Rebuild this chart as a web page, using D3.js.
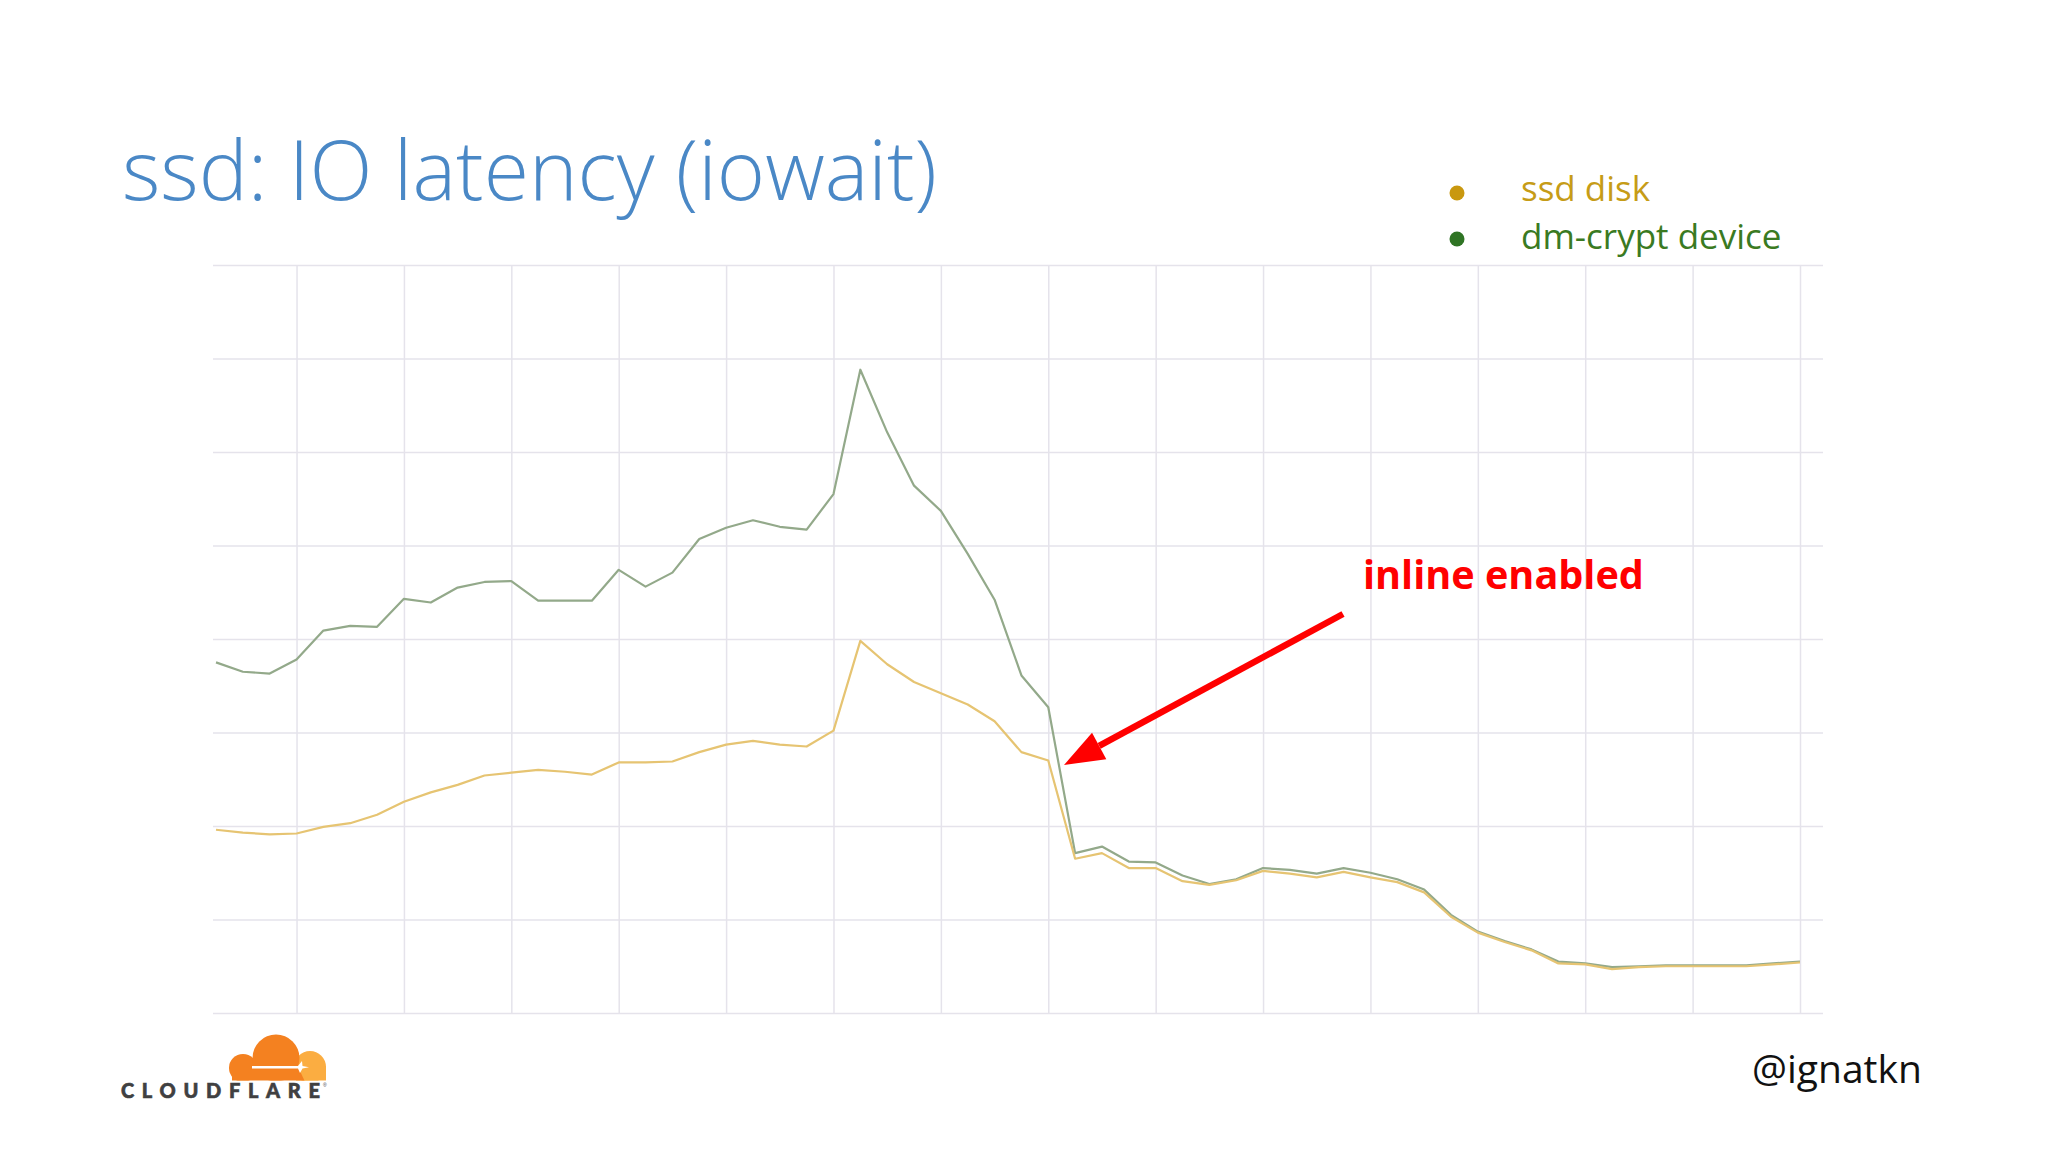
<!DOCTYPE html>
<html>
<head>
<meta charset="utf-8">
<script src="https://cdn.jsdelivr.net/npm/d3@7"></script>
<style>
  html, body { margin: 0; padding: 0; background: #ffffff; }
  svg { display: block; }
</style>
</head>
<body>
<svg id="chart" width="2048" height="1152"></svg>
<script>
// ---- data (values in grid units) ----
const seriesNames = ["ssd disk", "dm-crypt device"];
const ssdDisk = [
  1.96,1.93,1.91,1.92,1.99,2.03,2.12,2.26,2.36,2.44,
  2.54,2.57,2.60,2.58,2.55,2.68,2.68,2.69,2.79,2.87,
  2.91,2.87,2.85,3.02,3.98,3.73,3.54,3.42,3.30,3.12,
  2.79,2.70,1.65,1.71,1.55,1.55,1.41,1.37,1.42,1.52,
  1.49,1.45,1.51,1.45,1.40,1.29,1.03,0.86,0.76,0.67,
  0.53,0.52,0.47,0.49,0.50,0.50,0.50,0.50,0.52,0.54
];
const dmCrypt = [
  3.75,3.65,3.63,3.78,4.09,4.14,4.13,4.43,4.39,4.55,
  4.61,4.62,4.41,4.41,4.41,4.74,4.56,4.71,5.07,5.19,
  5.27,5.20,5.17,5.55,6.88,6.21,5.64,5.37,4.91,4.42,
  3.61,3.27,1.71,1.78,1.62,1.61,1.47,1.38,1.43,1.55,
  1.53,1.49,1.55,1.50,1.43,1.32,1.05,0.87,0.77,0.68,
  0.55,0.53,0.49,0.50,0.51,0.51,0.51,0.51,0.53,0.55
];
const xGridTicks = [3,7,11,15,19,23,27,31,35,39,43,47,51,55,59];
const yGridTicks = [0,1,2,3,4,5,6,7,8];
const titleText = "ssd: IO latency (iowait)";
const annotationText = "inline enabled";
const handleText = "@ignatkn";
const logoText = "CLOUDFLARE";

// ---- layout ----
const svg = d3.select("#chart");
const plot = { left: 213, right: 1823, top: 265, bottom: 1013 };
const x = d3.scaleLinear().domain([0, 59]).range([216, 1800]);
const y = d3.scaleLinear().domain([0, 8]).range([plot.bottom, plot.top]);
const colors = { ssd: "#e6c472", dm: "#93a98a" };

function fitText(sel, width) {
  const fs = parseFloat(sel.attr("font-size"));
  const w = sel.node().getComputedTextLength();
  sel.attr("font-size", fs * width / w);
}

// title
const title = svg.append("text")
  .attr("x", 122).attr("y", 200)
  .attr("font-family", "'Open Sans', sans-serif")
  .attr("font-weight", 300)
  .attr("font-size", 80)
  .attr("fill", "#4a88c6")
  .text(titleText);
fitText(title, 815);

// grid
const gx = svg.append("g")
  .attr("transform", `translate(0,${plot.bottom})`)
  .call(d3.axisBottom(x).tickValues(xGridTicks).tickSize(-(plot.bottom - plot.top)).tickFormat(""));
const gy = svg.append("g")
  .attr("transform", `translate(${plot.left},0)`)
  .call(d3.axisLeft(y).tickValues(yGridTicks).tickSize(-(plot.right - plot.left)).tickFormat(""));
[gx, gy].forEach(g => {
  g.select(".domain").remove();
  g.selectAll(".tick line").attr("stroke", "#e5e3eb").attr("stroke-width", 1.5);
});

// lines
const line = d3.line().x((d, i) => x(i)).y(d => y(d));
svg.append("path").datum(dmCrypt)
  .attr("d", line).attr("fill", "none")
  .attr("stroke", colors.dm).attr("stroke-width", 2.2).attr("stroke-linejoin", "round");
svg.append("path").datum(ssdDisk)
  .attr("d", line).attr("fill", "none")
  .attr("stroke", colors.ssd).attr("stroke-width", 2.2).attr("stroke-linejoin", "round");

// legend
const legendItems = [
  { name: seriesNames[0], dot: "#c9980f", text: "#c69c17", y: 201, dy: 193 },
  { name: seriesNames[1], dot: "#2f7424", text: "#3a7a22", y: 249, dy: 239 }
];
legendItems.forEach(it => {
  svg.append("circle").attr("cx", 1457).attr("cy", it.dy).attr("r", 7.5).attr("fill", it.dot);
  svg.append("text")
    .attr("x", 1521).attr("y", it.y)
    .attr("font-family", "'Open Sans', sans-serif")
    .attr("font-size", 35)
    .attr("fill", it.text)
    .text(it.name);
});

// annotation
const ann = svg.append("text")
  .attr("x", 1363).attr("y", 589)
  .attr("font-family", "'Open Sans', sans-serif")
  .attr("font-weight", 700)
  .attr("font-size", 38)
  .attr("fill", "#ff0000")
  .text(annotationText);
fitText(ann, 281);

// arrow
const tip = [1064, 765], start = [1343, 614];
const ang = Math.atan2(start[1] - tip[1], start[0] - tip[0]);
const headLen = 40, headHalf = 15;
const base = [tip[0] + headLen * Math.cos(ang), tip[1] + headLen * Math.sin(ang)];
svg.append("line")
  .attr("x1", start[0]).attr("y1", start[1])
  .attr("x2", base[0]).attr("y2", base[1])
  .attr("stroke", "#ff0000").attr("stroke-width", 6.5);
const nx = -Math.sin(ang), ny = Math.cos(ang);
svg.append("path")
  .attr("d", `M${tip[0]},${tip[1]} L${base[0] + nx * headHalf},${base[1] + ny * headHalf} L${base[0] - nx * headHalf},${base[1] - ny * headHalf} Z`)
  .attr("fill", "#ff0000");

// handle
const hd = svg.append("text")
  .attr("x", 1752).attr("y", 1083)
  .attr("font-family", "'Open Sans', sans-serif")
  .attr("font-size", 38)
  .attr("fill", "#111111")
  .text(handleText);
fitText(hd, 170);

// Cloudflare logo
const logo = svg.append("g");
const clipId = "cloudclip";
logo.append("clipPath").attr("id", clipId)
  .append("rect").attr("x", 200).attr("y", 1000).attr("width", 150).attr("height", 80.5);
const cl = logo.append("g").attr("clip-path", `url(#${clipId})`);
cl.append("circle").attr("cx", 310).attr("cy", 1067).attr("r", 16).attr("fill", "#fbad41");
cl.append("rect").attr("x", 296).attr("y", 1066).attr("width", 30).attr("height", 16).attr("fill", "#fbad41");
cl.append("circle").attr("cx", 243).attr("cy", 1068).attr("r", 14).attr("fill", "#f48120");
cl.append("circle").attr("cx", 276).attr("cy", 1058).attr("r", 23.5).attr("fill", "#f48120");
cl.append("path")
  .attr("d", "M232,1064 L296,1064 Q301,1072 305,1082 L232,1082 Z")
  .attr("fill", "#f48120");
logo.append("path")
  .attr("d", "M252,1066 L298,1066 L302,1061 L302.5,1066 L309,1067.2 L302.5,1068.4 L300,1073 L298,1068.4 L252,1068.4 Z")
  .attr("fill", "#ffffff");
logo.append("text")
  .attr("x", 121).attr("y", 1098)
  .attr("font-family", "Lato, 'Open Sans', sans-serif")
  .attr("font-weight", 900)
  .attr("font-size", 20)
  .attr("fill", "#404041")
  .attr("stroke", "#404041").attr("stroke-width", 0.6)
  .attr("textLength", 199)
  .attr("lengthAdjust", "spacing")
  .text(logoText);
logo.append("text").attr("x", 323).attr("y", 1087).attr("font-size", 5)
  .attr("font-family", "sans-serif").attr("fill", "#404041").text("®");
</script>
</body>
</html>
